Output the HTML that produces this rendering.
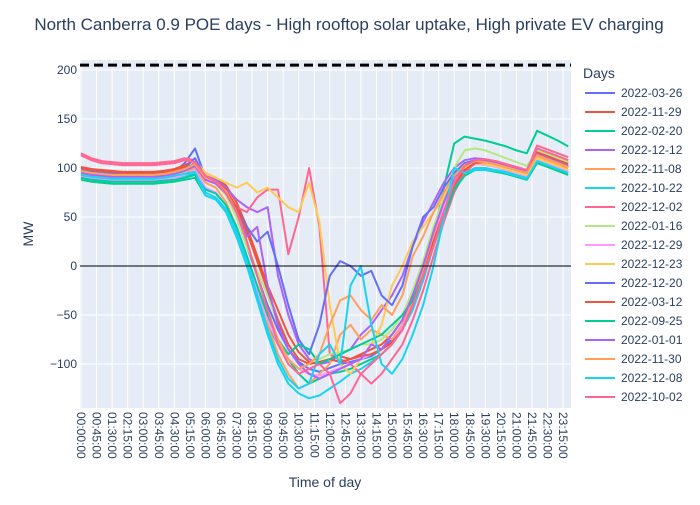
<!DOCTYPE html>
<html><head><meta charset="utf-8">
<style>
body{margin:0;background:#fff;font-family:"Liberation Sans",Arial,sans-serif;}
svg text{font-family:"Liberation Sans",Arial,sans-serif;}
</style></head>
<body>
<svg id="chart" width="700" height="500" viewBox="0 0 700 500" xmlns="http://www.w3.org/2000/svg">
<rect width="700" height="500" fill="#fff"/>
<text x="349" y="30" text-anchor="middle" font-size="17" fill="#2a3f5f">North Canberra 0.9 POE days - High rooftop solar uptake, High private EV charging</text>
<rect x="80" y="60" width="491" height="348" fill="#e5ecf6"/>
<g id="grid"></g>
<g id="series"></g>
<g id="ticks"></g>
<text x="0" y="0" transform="translate(33,234) rotate(-90)" text-anchor="middle" font-size="14" fill="#2a3f5f">MW</text>
<text x="325" y="487" text-anchor="middle" font-size="14" fill="#2a3f5f">Time of day</text>
<text x="583" y="78" font-size="14" fill="#2a3f5f">Days</text>
<g id="legend"></g>
</svg>
<script>
const days=["2022-03-26","2022-11-29","2022-02-20","2022-12-12","2022-11-08","2022-10-22","2022-12-02","2022-01-16","2022-12-29","2022-12-23","2022-12-20","2022-03-12","2022-09-25","2022-01-01","2022-11-30","2022-12-08","2022-10-02"];
const colors=["#636efa","#EF553B","#00cc96","#ab63fa","#FFA15A","#19d3f3","#FF6692","#B6E880","#FF97FF","#FECB52","#636efa","#EF553B","#00cc96","#ab63fa","#FFA15A","#19d3f3","#FF6692"];
const yTicks=[-100,-50,0,50,100,150,200];
const thresholdMW=205;
const s1=[97,96,95,94,93,93,93,93,94,96,105,120,90,86,75,50,20,-10,-40,-65,-85,-98,-105,-108,-104,-100,-98,-95,-92,-85,-75,-60,-35,-5,25,55,80,97,104,105,103,100,97,94,112,108,104,100];
const s2=[101,99,98,97,96,96,96,96,97,99,103,108,95,90,82,65,40,10,-20,-45,-70,-88,-98,-100,-95,-92,-95,-90,-85,-80,-70,-55,-30,0,30,60,85,100,107,108,106,103,100,97,118,114,110,106];
const s3=[88,86,85,84,84,84,84,84,85,86,88,90,72,68,55,30,0,-30,-60,-80,-95,-110,-120,-115,-110,-108,-105,-100,-95,-90,-80,-65,-40,-10,30,80,125,132,130,128,125,122,118,115,138,133,128,122];
const s4=[95,93,92,91,91,91,91,91,92,94,98,106,92,88,80,68,60,55,60,-10,-50,-80,-95,-100,-98,-90,-85,-70,-60,-45,-30,-10,20,45,65,85,100,108,110,109,106,103,100,97,114,110,106,102];
const s5=[93,91,90,89,89,89,89,89,90,92,95,100,85,80,65,40,10,-25,-60,-90,-110,-125,-120,-110,-100,-70,-60,-75,-65,-70,-75,-60,-35,-5,30,60,85,100,105,106,104,101,98,95,112,108,104,100];
const s6=[92,90,89,88,88,88,88,88,89,90,92,94,72,68,55,30,0,-35,-70,-100,-120,-130,-135,-132,-125,-118,-110,-105,-98,-90,-80,-65,-45,-15,20,55,80,95,100,100,98,96,93,90,108,104,100,96];
const s7=[115,110,107,106,105,105,105,105,106,107,110,108,92,86,75,60,55,70,78,78,12,50,100,40,-90,-95,-100,-110,-120,-110,-95,-80,-55,-25,10,45,75,95,105,108,107,104,101,98,123,119,115,111];
const s8=[94,92,91,90,90,90,90,90,91,93,96,104,88,84,72,50,20,-5,-30,-60,-80,-95,-100,-95,-90,-88,-85,-80,-80,-75,-65,-50,-25,5,40,70,100,118,120,118,114,110,106,102,118,114,110,106];
const s9=[91,89,88,87,87,87,87,87,88,90,93,98,80,75,62,38,8,-25,-55,-80,-95,-105,-110,-112,-108,-104,-100,-95,-90,-85,-78,-62,-40,-10,25,60,88,100,104,103,101,98,95,92,108,104,100,96];
const s10=[96,94,93,92,92,92,92,92,93,95,100,108,95,90,85,80,85,75,80,70,60,55,85,45,-40,-100,-110,-95,-80,-60,-20,0,25,40,55,70,90,100,105,104,102,99,96,93,110,106,102,98];
const s11=[98,96,95,94,94,94,94,94,95,97,100,110,90,85,75,60,40,25,35,0,-40,-75,-90,-60,-10,5,0,-10,-5,-30,-40,-20,20,50,60,80,95,105,108,107,105,102,99,96,114,110,106,102];
const s12=[100,98,97,96,95,95,95,95,96,98,101,103,90,86,78,60,35,5,-25,-55,-80,-95,-100,-98,-95,-98,-95,-92,-90,-85,-78,-65,-40,-10,25,55,82,98,105,106,104,101,98,95,116,112,108,104];
const s13=[90,88,87,86,86,86,86,86,87,88,90,93,78,74,62,40,10,-20,-50,-75,-90,-80,-85,-100,-95,-90,-85,-80,-75,-70,-60,-50,-35,-10,20,50,78,92,98,98,96,94,91,88,105,101,97,93];
const s14=[95,93,92,91,91,91,91,91,92,94,97,102,88,84,74,55,30,40,-20,-60,-85,-100,-110,-115,-110,-105,-100,-95,-80,-85,-70,-55,-30,0,35,65,90,103,107,107,105,102,99,96,114,110,106,102];
const s15=[97,95,94,93,93,93,93,93,94,96,99,104,90,86,76,55,25,-10,-45,-75,-95,-105,-100,-90,-60,-35,-30,-45,-55,-40,-50,-30,10,30,55,75,92,103,107,106,104,101,98,95,113,109,105,101];
const s16=[93,91,90,89,89,89,89,89,90,92,94,96,75,70,58,35,5,-30,-65,-95,-115,-125,-120,-90,-80,-100,-20,0,-60,-100,-110,-95,-70,-40,0,50,100,95,98,98,97,95,92,89,107,103,99,95];
const s17=[113,108,105,104,103,103,103,103,104,105,108,106,92,86,74,55,25,-10,-45,-80,-100,-110,-105,-100,-110,-140,-130,-110,-100,-90,-80,-65,-40,-10,20,55,85,102,108,109,107,104,101,98,120,116,112,108];
const seriesValues=[s1,s2,s3,s4,s5,s6,s7,s8,s9,s10,s11,s12,s13,s14,s15,s16,s17];
const stepMinutes=30;
const tickEveryMinutes=45;

const NS="http://www.w3.org/2000/svg";
const X0=80,X1=571,Y0=60,Y1=408;
function xScale(min){return 81+min*(15.55/45);}
function yScale(v){return 266-v*0.98;}
function mk(tag,attrs,parent){const e=document.createElementNS(NS,tag);for(const k in attrs)e.setAttribute(k,attrs[k]);parent.appendChild(e);return e;}
function fmt(m){const h=Math.floor(m/60),mm=m%60;return String(h).padStart(2,"0")+":"+String(mm).padStart(2,"0")+":00";}

const grid=document.getElementById("grid"),ticks=document.getElementById("ticks");
for(let m=0;m<=1395;m+=tickEveryMinutes){
  const x=xScale(m);
  const gl=mk("line",{x1:x,x2:x,y1:Y0,y2:Y1,stroke:"#fff","stroke-width":1},grid);
  
  
  const t=mk("text",{transform:`translate(${x-4},412) rotate(90)`,"font-size":12,fill:"#2a3f5f"},ticks);
  t.textContent=fmt(m);
  
  
}
yTicks.forEach(v=>{
  const y=yScale(v);
  if(v!==0){
    const gl=mk("line",{x1:X0,x2:X1,y1:y,y2:y,stroke:"#fff","stroke-width":1},grid);
    
    
  }
  const t=mk("text",{x:77,y:y+4,"text-anchor":"end","font-size":12,fill:"#2a3f5f"},ticks);
  t.textContent=v<0?"\u2212"+Math.abs(v):String(v);
  
  
});
const series=document.getElementById("series");
const clip=mk("clipPath",{id:"pc"},series);
mk("rect",{x:X0,y:Y0,width:X1-X0,height:Y1-Y0},clip);
const sg=mk("g",{"clip-path":"url(#pc)"},series);
seriesValues.forEach((vals,i)=>{
  const d=vals.map((v,j)=>(j?"L":"M")+xScale(j*stepMinutes).toFixed(1)+","+yScale(v).toFixed(1)).join("");
  const p=mk("path",{d:d,fill:"none",stroke:colors[i],"stroke-width":2,"stroke-linejoin":"round"},sg);
  
  
});
const zl=mk("line",{x1:X0,x2:X1,y1:yScale(0),y2:yScale(0),stroke:"#000","stroke-width":1},series);


const th=mk("line",{x1:X0,x2:X1,y1:yScale(thresholdMW),y2:yScale(thresholdMW),stroke:"#000","stroke-width":3,"stroke-dasharray":"9,5"},series);



const legend=document.getElementById("legend");
days.forEach((d,i)=>{
  const y=93+i*19;
  const g=mk("g",{},legend);
  
  
  mk("line",{x1:585,x2:615,y1:y,y2:y,stroke:colors[i],"stroke-width":2},g);
  const t=mk("text",{x:621,y:y+4,"font-size":12,fill:"#2a3f5f"},g);
  t.textContent=d;
});
</script>
</body></html>
